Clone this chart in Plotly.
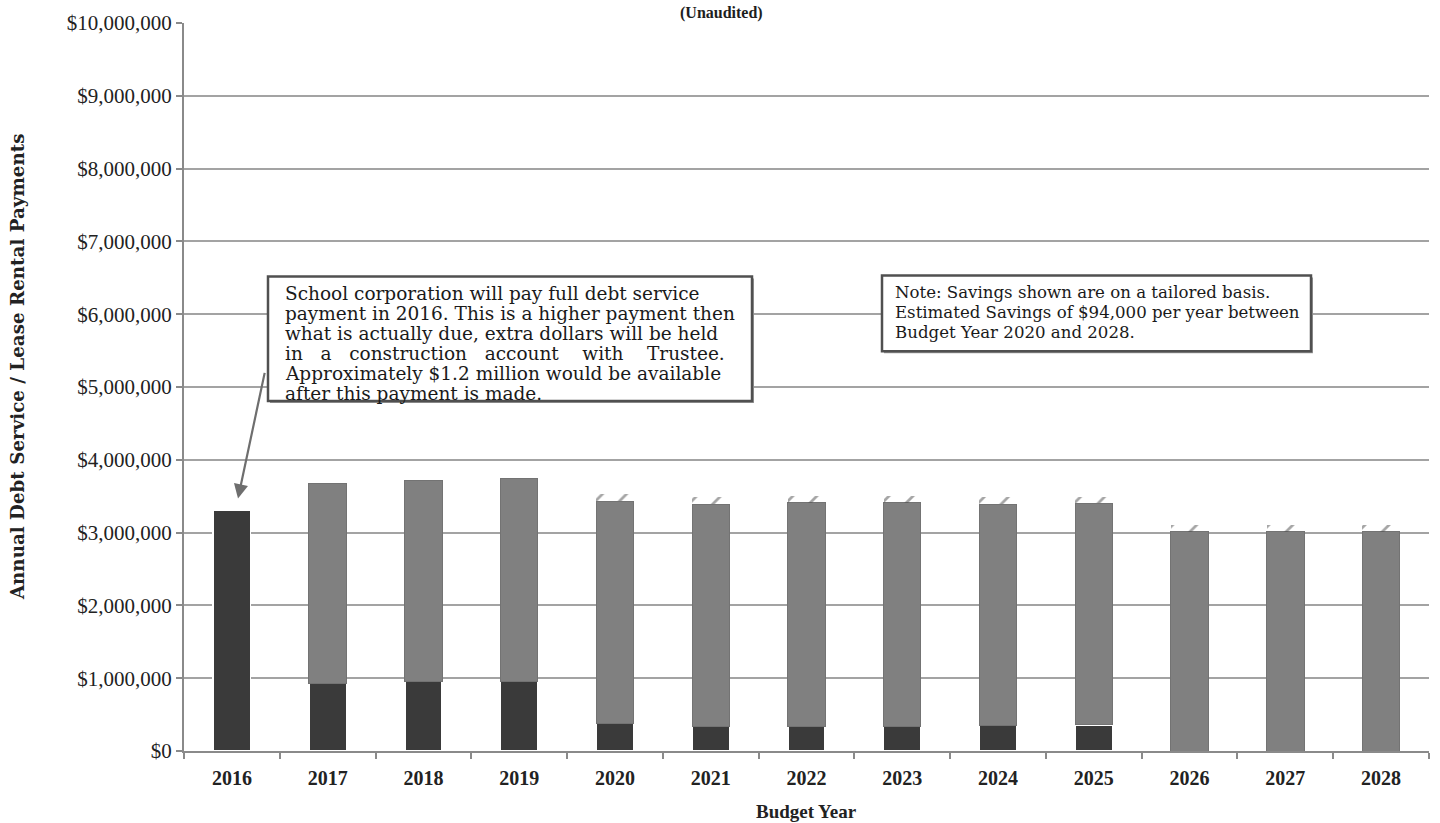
import plotly.graph_objects as go

years = ["2016", "2017", "2018", "2019", "2020", "2021", "2022",
         "2023", "2024", "2025", "2026", "2027", "2028"]
existing_debt = [3310000, 930000, 955000, 955000, 375000, 340000, 340000,
                 340000, 355000, 360000, 0, 0, 0]
new_payment = [0, 2745000, 2765000, 2785000, 3055000, 3050000, 3070000,
               3070000, 3035000, 3040000, 3010000, 3010000, 3010000]
savings = [0, 0, 0, 0, 94000, 94000, 94000, 94000, 94000, 94000,
           94000, 94000, 94000]

box1_lines = [
    "School corporation will pay full debt service",
    "payment in 2016. This is a higher payment then",
    "what is actually due, extra dollars will be held",
    "in\u00a0\u00a0\u00a0a\u00a0\u00a0\u00a0construction\u00a0\u00a0\u00a0account\u00a0\u00a0\u00a0\u00a0with\u00a0\u00a0\u00a0\u00a0Trustee.",
    "Approximately $1.2 million would be available",
    "after this payment is made.",
]
box2_lines = [
    "Note: Savings shown are on a tailored basis.",
    "Estimated Savings of $94,000 per year between",
    "Budget Year 2020 and 2028.",
]

W, H = 1440, 823
L, R, T, B = 184, 11, 19, 72
PW, PH = W - L - R, H - T - B


def px(x):
    return (x - L) / PW


def py(y):
    return (H - B - y) / PH


fig = go.Figure()
fig.add_trace(go.Bar(
    x=years, y=[v if v else None for v in existing_debt], name="Existing",
    marker=dict(color="#3a3a3a", line=dict(color="#ffffff", width=1.5)),
    hoverinfo="skip"))
fig.add_trace(go.Bar(
    x=years, y=[v if v else None for v in new_payment], name="New",
    marker=dict(color="#808080", line=dict(color="#737373", width=1)),
    hoverinfo="skip"))
fig.add_trace(go.Bar(
    x=years, y=[v if v else None for v in savings], name="Savings",
    marker=dict(color="rgba(255,255,255,0)", line=dict(width=0),
                pattern=dict(shape="/", fgcolor="#4c4c4c",
                             bgcolor="rgba(255,255,255,0)",
                             size=17, solidity=0.16)),
    hoverinfo="skip"))

serif = "Liberation Serif"
wide = "DejaVu Serif"

shapes = []
annotations = []

# boxes
b1 = (268, 274, 752, 399)
b2 = (882, 273, 1311, 349)
for (x0, y0, x1, y1) in (b1, b2):
    shapes.append(dict(type="rect", xref="paper", yref="paper",
                       x0=px(x0 + 2), x1=px(x1 + 2), y0=py(y1 + 2), y1=py(y0 + 2),
                       line=dict(width=0), fillcolor="#9a9a9a", layer="above"))
    shapes.append(dict(type="rect", xref="paper", yref="paper",
                       x0=px(x0), x1=px(x1), y0=py(y1), y1=py(y0),
                       line=dict(color="#505050", width=2.5),
                       fillcolor="#ffffff", layer="above"))

for i, t in enumerate(box1_lines):
    annotations.append(dict(text=t, xref="paper", yref="paper",
                            x=px(283), y=py(291 + 20.2 * i), xanchor="left",
                            yanchor="middle", showarrow=False,
                            font=dict(family=wide, size=18.5, color="#1a1a1a")))
for i, t in enumerate(box2_lines):
    annotations.append(dict(text=t, xref="paper", yref="paper",
                            x=px(893), y=py(290 + 20.2 * i), xanchor="left",
                            yanchor="middle", showarrow=False,
                            font=dict(family=wide, size=16.6, color="#1a1a1a")))

# arrow to 2016 bar
annotations.append(dict(text="", xref="paper", yref="paper",
                        x=px(238), y=py(497), ax=27, ay=-127,
                        showarrow=True, arrowhead=2, arrowsize=1.3,
                        arrowwidth=2.2, arrowcolor="#6e6e6e", standoff=0))

# title (top edge of the page)
annotations.append(dict(text="<b>(Unaudited)</b>", xref="paper", yref="paper",
                        x=px(721), y=py(9), xanchor="center", yanchor="middle",
                        showarrow=False,
                        font=dict(family=serif, size=16, color="#1e1e1e")))

# axis titles
annotations.append(dict(text="<b>Budget Year</b>", xref="paper", yref="paper",
                        x=px(806), y=py(812), xanchor="center", yanchor="middle",
                        showarrow=False,
                        font=dict(family=serif, size=19, color="#222222")))
annotations.append(dict(text="<b>Annual Debt Service / Lease Rental Payments</b>",
                        xref="paper", yref="paper", textangle=-90,
                        x=px(17), y=py(364), xanchor="center", yanchor="middle",
                        showarrow=False,
                        font=dict(family=wide, size=18.3, color="#222222")))

fig.update_layout(
    width=W, height=H,
    margin=dict(l=L, r=R, t=T, b=B),
    barmode="stack", bargap=0.61,
    showlegend=False,
    plot_bgcolor="#ffffff", paper_bgcolor="#ffffff",
    shapes=shapes, annotations=annotations,
)
fig.update_xaxes(
    type="category", showline=True, linecolor="#8a8a8a", linewidth=2,
    ticks="outside", tickson="boundaries", ticklen=6, tickcolor="#8a8a8a",
    tickwidth=1.5, showgrid=False, ticklabelstandoff=8,
    tickfont=dict(family=serif, size=20, color="#222222", weight="bold"),
)
fig.update_yaxes(
    range=[0, 10000000], dtick=1000000, tickformat="$,.0f",
    showline=True, linecolor="#8a8a8a", linewidth=2,
    ticks="outside", ticklen=6, tickcolor="#8a8a8a", tickwidth=1.5,
    showgrid=True, gridcolor="#a3a3a3", gridwidth=1.6, zeroline=False,
    tickfont=dict(family=serif, size=21, color="#222222"),
)

fig.write_html(
    "out.html",
    config={"displayModeBar": False},
    post_script="document.body.style.margin='0';"
                "document.documentElement.style.overflow='hidden';",
)
